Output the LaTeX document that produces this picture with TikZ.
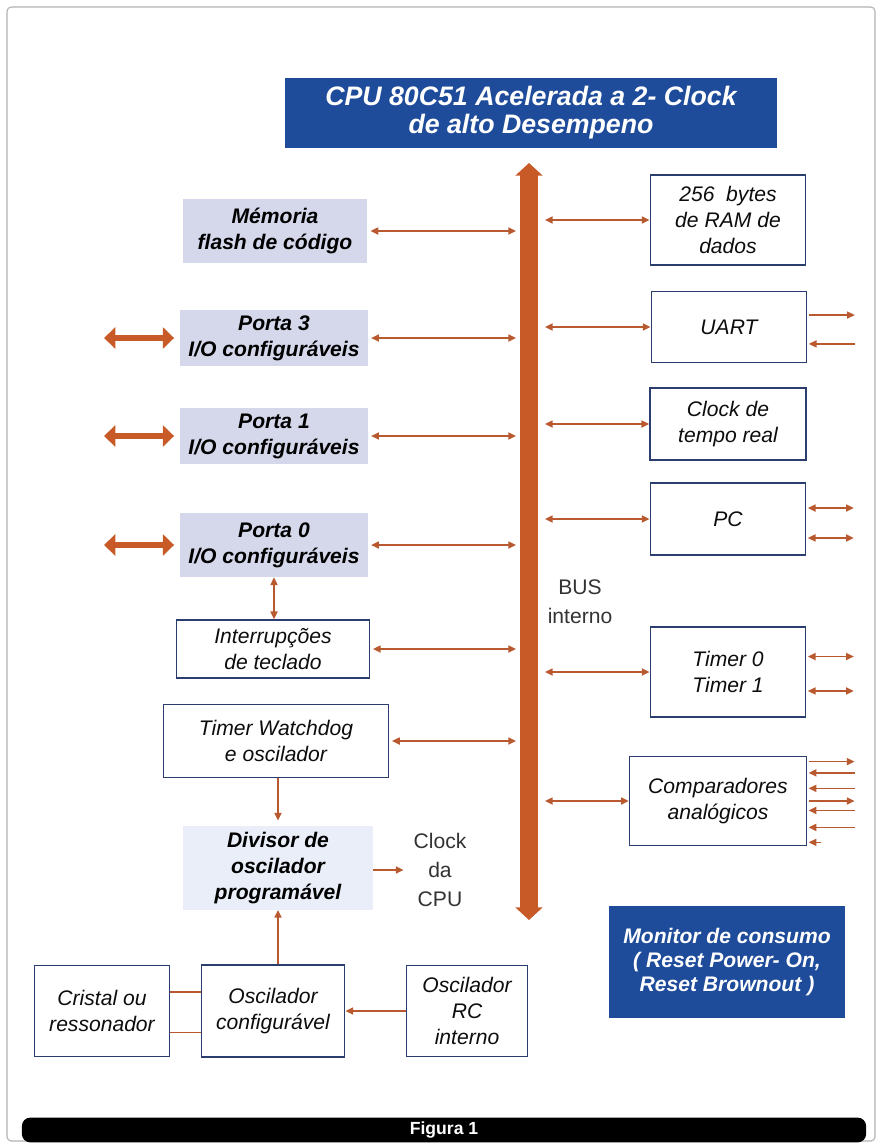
\documentclass[tikz,border=0pt]{standalone}
\usepackage{fontspec}
\setmainfont{Liberation Sans}
\usetikzlibrary{arrows.meta,calc}
\definecolor{titleblue}{HTML}{1E4C9A}
\definecolor{framenavy}{HTML}{2B3D6E}
\definecolor{lavender}{HTML}{D5D8EB}
\definecolor{paleblue}{HTML}{E9EEF8}
\definecolor{busorange}{HTML}{C85A28}
\definecolor{wireorange}{HTML}{B9592F}
\tikzstyle{block}=[rectangle, draw=framenavy, line width=1.1pt, fill=white, align=center, inner sep=0pt, text=black!95, font=\fontsize{15}{18.5}\selectfont\itshape]
\tikzstyle{shade}=[rectangle, fill=lavender, align=center, inner sep=0pt, font=\fontsize{15}{18.5}\selectfont\bfseries\itshape]
\tikzstyle{banner}=[rectangle, fill=titleblue, text=white, align=center, inner sep=0pt]
\tikzstyle{annot}=[align=center, inner sep=0pt, text=black!80, font=\fontsize{15}{20.5}\selectfont]
\tikzstyle{wire}=[wireorange, line width=1.1pt, >={Triangle[length=5.5pt,width=5pt]}]
\tikzstyle{bigwire}=[busorange, line width=4.5pt, >={Triangle[length=8pt,width=15pt]}]
\begin{document}
\begin{tikzpicture}[x=0.025cm, y=-0.025cm]
	\useasboundingbox (0,0) rectangle (880,1146);
	\draw[black!30, line width=0.8pt, rounded corners=3pt] (7,7) rectangle (875,1141);

	% title and bus
	\node[banner, minimum width=12.3cm, minimum height=1.75cm, font=\fontsize{19}{20}\selectfont\bfseries\itshape] (cpu) at (531,113) {CPU 80C51 Acelerada a 2- Clock\\de alto Desempeno};
	\coordinate (bustop) at (529,163);
	\coordinate (busbot) at (529,920);
	\coordinate (busL) at (516,0);
	\coordinate (busR) at (545,0);
	\draw[busorange, line width=13pt, {Triangle[length=9pt,width=19pt]}-{Triangle[length=9pt,width=19pt]}] (bustop) -- (busbot);
	\node[annot] (busname) at (580,602) {BUS\\interno};

	% left column
	\node[shade, minimum width=4.62cm, minimum height=1.62cm] (mem) at (275,231) {Mémoria\\flash de código};
	\node[shade, minimum width=4.7cm, minimum height=1.42cm] (p3) at (274,338) {Porta 3\\I/O configuráveis};
	\node[shade, minimum width=4.7cm, minimum height=1.38cm] (p1) at (274,436) {Porta 1\\I/O configuráveis};
	\node[shade, minimum width=4.7cm, minimum height=1.6cm] (p0) at (274,545) {Porta 0\\I/O configuráveis};
	\node[block, minimum width=4.82cm, minimum height=1.45cm] (intr) at (273,649) {Interrupções\\de teclado};
	\node[block, minimum width=5.62cm, minimum height=1.82cm] (wdog) at (276,741) {Timer Watchdog\\e oscilador};
	\node[shade, fill=paleblue, minimum width=4.75cm, minimum height=2.08cm] (div) at (278,868) {Divisor de\\oscilador\\programável};
	\node[annot] (clk) at (440,870) {Clock\\da\\CPU};
	\node[block, minimum width=3.38cm, minimum height=2.28cm] (cristal) at (102,1011) {Cristal ou\\ressonador};
	\node[block, minimum width=3.58cm, minimum height=2.3cm] (oscconf) at (273,1011) {Oscilador\\configurável};
	\node[block, minimum width=3.02cm, minimum height=2.28cm] (rc) at (467,1011) {Oscilador\\RC\\interno};

	% right column
	\node[block, minimum width=3.88cm, minimum height=2.25cm] (ram) at (728,220) {256~ bytes\\de RAM de\\dados};
	\node[block, minimum width=3.88cm, minimum height=1.78cm] (uart) at (729,327) {UART};
	\node[block, minimum width=3.9cm, minimum height=1.8cm] (rtc) at (728,424) {Clock de\\tempo real};
	\node[block, minimum width=3.88cm, minimum height=1.8cm] (pc) at (728,519) {PC};
	\node[block, minimum width=3.88cm, minimum height=2.25cm] (tmr) at (728,672) {Timer 0\\Timer 1};
	\node[block, minimum width=4.42cm, minimum height=2.22cm] (comp) at (718,801) {Comparadores\\analógicos};
	\node[banner, minimum width=5.9cm, minimum height=2.78cm, font=\fontsize{15}{17}\selectfont\bfseries\itshape] (mon) at (727,962) {Monitor de consumo\\( Reset Power- On,\\Reset Brownout )};

	% links to the bus
	\foreach \blk in {mem,p3,p1,p0,intr,wdog}
		\draw[wire,<->] ([xshift=2pt]\blk.east) -- (\blk.east -| busL);
	\foreach \blk in {ram,uart,rtc,pc,tmr,comp}
		\draw[wire,<->] (\blk.west -| busR) -- (\blk.west);

	% port pins
	\foreach \blk in {p3,p1,p0}
		\draw[bigwire,<->] ([xshift=-4pt]\blk.west) -- ++(-70,0);

	% pins on the right
	\draw[wire,->] ([xshift=1pt,yshift=8.5pt]uart.east) -- ++(46,0);
	\draw[wire,<-] ([xshift=1pt,yshift=-12pt]uart.east) -- ++(46,0);
	\draw[wire,<->] ([xshift=1pt,yshift=7.8pt]pc.east) -- ++(46,0);
	\draw[wire,<->] ([xshift=1pt,yshift=-13.5pt]pc.east) -- ++(46,0);
	\draw[wire,<->] ([xshift=1pt,yshift=11pt]tmr.east) -- ++(46,0);
	\draw[wire,<->] ([xshift=1pt,yshift=-13.5pt]tmr.east) -- ++(46,0);
	\foreach \dy in {28pt,0pt}
		\draw[wire,->] ([xshift=1pt,yshift=\dy]comp.east) -- ++(46,0);
	\foreach \dy in {20pt,9pt,-6.7pt,-18.8pt}
		\draw[wire,<-] ([xshift=1pt,yshift=\dy]comp.east) -- ++(46,0);
	\draw[wire,<-] ([xshift=1pt,yshift=-29.4pt]comp.east) -- ++(12,0);

	% clock path
	\draw[wire,<->] (p0.south) -- (p0.south |- intr.north);
	\draw[wire,->] (wdog.south -| div.north) -- ([yshift=4pt]div.north);
	\draw[wire,->] (oscconf.north -| div.south) -- (div.south);
	\draw[wire,->] (div.east |- clk.west) -- ([xshift=-7pt]clk.west);
	\draw[wire,->] (rc.west) -- (oscconf.east);
	\draw[wire, line width=0.8pt] ([yshift=13.5pt]cristal.east) -- ([yshift=13.5pt]oscconf.west);
	\draw[wire, line width=0.8pt] ([yshift=-15pt]cristal.east) -- ([yshift=-15pt]oscconf.west);

	\node[fill=black, rounded corners=6pt, minimum width=21.1cm, minimum height=0.62cm, inner sep=0pt, text=white, font=\fontsize{12.5}{14}\selectfont\bfseries] (fig) at (444,1130) {Figura 1};
\end{tikzpicture}
\end{document}
